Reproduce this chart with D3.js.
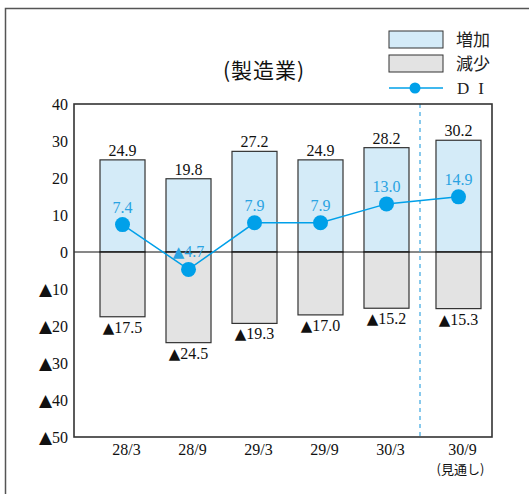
<!DOCTYPE html>
<html>
<head>
<meta charset="utf-8">
<script src="https://cdn.jsdelivr.net/npm/d3@7"></script>
<style>
  body { margin: 0; background: #fff; }
</style>
</head>
<body>
<div id="chart"></div>
<script>
// data
const categories = ["28/3", "28/9", "29/3", "29/9", "30/3", "30/9"];
const increase = [24.9, 19.8, 27.2, 24.9, 28.2, 30.2];
const decrease = [-17.5, -24.5, -19.3, -17.0, -15.2, -15.3];
const di = [7.4, -4.7, 7.9, 7.9, 13.0, 14.9];
const yTicks = [40, 30, 20, 10, 0, -10, -20, -30, -40, -50];
const forecastCategory = "30/9";
const forecastNote = "(見通し)";

// plot area
const plot = {left: 74, top: 104, right: 492, bottom: 437};
const blue = "#00a0e9";
const SERIF = "Liberation Serif";
const JP = "Noto Sans CJK JP";

const svg = d3.select("#chart")
    .append("svg")
    .attr("width", 529)
    .attr("height", 494)
    .attr("font-family", SERIF);

// writes "▲" (bigger glyph) + number into a text element
function signed(sel, v, digits, triSize) {
    sel.text(null);
    if (v < 0) {
        sel.append("tspan")
            .attr("font-family", "DejaVu Sans")
            .attr("font-size", triSize)
            .text("▲");
    }
    sel.append("tspan").text(d3.format(digits)(Math.abs(v)));
}

// outer frame (cut off on the right and bottom)
svg.append("rect")
    .attr("x", 5.5).attr("y", 8.5)
    .attr("width", 540).attr("height", 500)
    .attr("fill", "none")
    .attr("stroke", "#555")
    .attr("stroke-width", 1.5);

const y = d3.scaleLinear()
    .domain([-50, 40])
    .range([plot.bottom, plot.top]);

const x = d3.scaleBand()
    .domain(categories)
    .range([plot.left, 501])
    .paddingInner(0.318)
    .paddingOuter(0.394);

// the forecast column sits a little further right
const forecastShift = 6;
const xPos = d => x(d) + (d === forecastCategory ? forecastShift : 0);
const xMid = d => xPos(d) + x.bandwidth() / 2;

// bars
svg.selectAll(".inc")
    .data(categories)
    .join("rect")
    .attr("class", "inc")
    .attr("x", d => xPos(d))
    .attr("width", x.bandwidth())
    .attr("y", (d, i) => y(increase[i]))
    .attr("height", (d, i) => y(0) - y(increase[i]))
    .attr("fill", "#d4ebf8")
    .attr("stroke", "#333")
    .attr("stroke-width", 1.2);

svg.selectAll(".dec")
    .data(categories)
    .join("rect")
    .attr("class", "dec")
    .attr("x", d => xPos(d))
    .attr("width", x.bandwidth())
    .attr("y", y(0))
    .attr("height", (d, i) => y(decrease[i]) - y(0))
    .attr("fill", "#e3e3e3")
    .attr("stroke", "#333")
    .attr("stroke-width", 1.2);

// bar labels
svg.selectAll(".incLabel")
    .data(categories)
    .join("text")
    .attr("x", d => xMid(d))
    .attr("y", (d, i) => y(increase[i]) - 4)
    .attr("text-anchor", "middle")
    .attr("font-size", "16px")
    .attr("fill", "#111")
    .each(function(d, i) { signed(d3.select(this), increase[i], ".1f", "15px"); });

svg.selectAll(".decLabel")
    .data(categories)
    .join("text")
    .attr("x", d => xMid(d))
    .attr("y", (d, i) => y(decrease[i]) + 16)
    .attr("text-anchor", "middle")
    .attr("font-size", "16px")
    .attr("fill", "#111")
    .each(function(d, i) { signed(d3.select(this), decrease[i], ".1f", "15px"); });

// zero line
svg.append("line")
    .attr("x1", plot.left).attr("x2", plot.right)
    .attr("y1", y(0)).attr("y2", y(0))
    .attr("stroke", "#111")
    .attr("stroke-width", 1.2);

// forecast divider
const divX = x("30/3") + x.bandwidth() + 11;
svg.append("line")
    .attr("x1", divX).attr("x2", divX)
    .attr("y1", plot.top).attr("y2", plot.bottom)
    .attr("stroke", "#3aa6e0")
    .attr("stroke-width", 1.2)
    .attr("stroke-dasharray", "4,4");

// plot frame
svg.append("rect")
    .attr("x", plot.left).attr("y", plot.top)
    .attr("width", plot.right - plot.left)
    .attr("height", plot.bottom - plot.top)
    .attr("fill", "none")
    .attr("stroke", "#333")
    .attr("stroke-width", 1.6);

// DI line and points
const line = d3.line()
    .x((d, i) => xMid(categories[i]))
    .y(d => y(d));

svg.append("path")
    .datum(di)
    .attr("d", line)
    .attr("fill", "none")
    .attr("stroke", blue)
    .attr("stroke-width", 1.5);

svg.selectAll(".diPoint")
    .data(di)
    .join("circle")
    .attr("cx", (d, i) => xMid(categories[i]))
    .attr("cy", d => y(d))
    .attr("r", 7.5)
    .attr("fill", blue);

svg.selectAll(".diLabel")
    .data(di)
    .join("text")
    .attr("x", (d, i) => xMid(categories[i]))
    .attr("y", d => y(d) - 12)
    .attr("text-anchor", "middle")
    .attr("font-size", "16px")
    .attr("fill", "#2aa3e2")
    .each(function(d) { signed(d3.select(this), d, ".1f", "15px"); });

// y axis
const yAxis = svg.append("g")
    .attr("transform", `translate(${plot.left - 6},0)`)
    .call(d3.axisLeft(y).tickValues(yTicks).tickSize(0).tickPadding(0));
yAxis.select(".domain").remove();
yAxis.attr("font-family", SERIF).attr("font-size", "16px");
yAxis.selectAll("text")
    .attr("fill", "#111")
    .each(function(d) { signed(d3.select(this), d, "d", "17px"); });

// x axis
const xAxis = svg.append("g")
    .attr("transform", `translate(0,${plot.bottom})`)
    .call(d3.axisBottom(x).tickSize(0).tickPadding(0));
xAxis.select(".domain").remove();
xAxis.attr("font-family", SERIF).attr("font-size", "16px");
xAxis.selectAll(".tick")
    .attr("transform", d => `translate(${xMid(d) + 4},0)`);
xAxis.selectAll("text")
    .attr("y", 18)
    .attr("dy", 0)
    .attr("fill", "#111");

svg.append("text")
    .attr("font-family", JP)
    .attr("x", xMid(forecastCategory) + 2)
    .attr("y", 474)
    .attr("text-anchor", "middle")
    .attr("font-size", "13px")
    .attr("fill", "#111")
    .text(forecastNote);

// title
svg.append("text")
    .attr("font-family", JP)
    .attr("x", 264)
    .attr("y", 78)
    .attr("text-anchor", "middle")
    .attr("font-size", "21px")
    .attr("letter-spacing", "1px")
    .attr("fill", "#111")
    .text("(製造業)");

// legend
const legend = svg.append("g").attr("transform", "translate(389,31)");
legend.append("rect")
    .attr("x", 0).attr("y", 0).attr("width", 54).attr("height", 17)
    .attr("fill", "#d4ebf8").attr("stroke", "#333");
legend.append("rect")
    .attr("x", 0).attr("y", 24).attr("width", 54).attr("height", 17)
    .attr("fill", "#e3e3e3").attr("stroke", "#333");
legend.append("line")
    .attr("x1", 0).attr("x2", 54).attr("y1", 57).attr("y2", 57)
    .attr("stroke", blue).attr("stroke-width", 1.5);
legend.append("circle")
    .attr("cx", 26).attr("cy", 57).attr("r", 5.5).attr("fill", blue);

legend.append("text").attr("font-family", JP)
    .attr("x", 67).attr("y", 15)
    .attr("font-size", "17px").attr("fill", "#222")
    .text("増加");
legend.append("text").attr("font-family", JP)
    .attr("x", 67).attr("y", 39)
    .attr("font-size", "17px").attr("fill", "#222")
    .text("減少");
legend.append("text")
    .attr("x", 68).attr("y", 63)
    .attr("font-size", "17px")
    .attr("letter-spacing", "9px")
    .attr("fill", "#222")
    .text("DI");
</script>
</body>
</html>
